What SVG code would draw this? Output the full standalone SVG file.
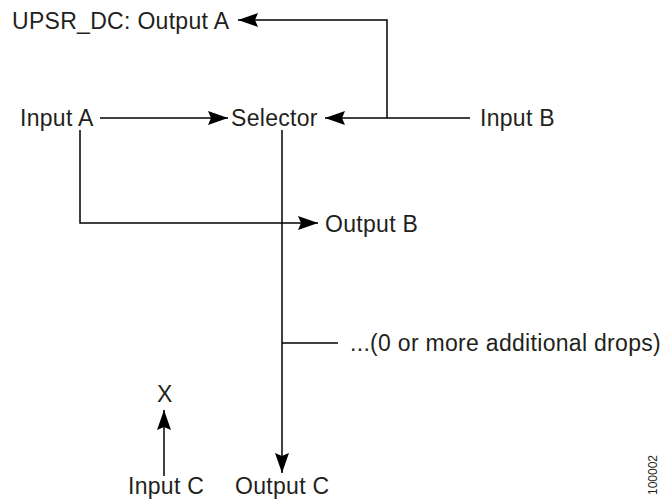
<svg xmlns="http://www.w3.org/2000/svg" width="665" height="501" viewBox="0 0 665 501">
<style>
text{font-family:"Liberation Sans",Arial,Helvetica,sans-serif;font-size:23px;fill:#231f20;letter-spacing:0.3px}
.c{fill:none;stroke:#000;stroke-width:1.5}
.id{font-size:12px;letter-spacing:0}
</style>
<defs>
<marker id="ah" viewBox="-22 -8 23 16" markerWidth="23" markerHeight="16" refX="0" refY="0" markerUnits="userSpaceOnUse" orient="auto">
<path d="M0,0 L-20,-7 L-17,0 L-20,7 Z" fill="#000"/>
</marker>
</defs>
<rect width="665" height="501" fill="#fff"/>
<g id="connectors">
<path class="c" d="M387,118 V20 H238" marker-end="url(#ah)"/>
<path class="c" d="M470,118 H325" marker-end="url(#ah)"/>
<path class="c" d="M100,118 H228" marker-end="url(#ah)"/>
<path class="c" d="M80,130 V223 H318" marker-end="url(#ah)"/>
<path class="c" d="M282,130 V473" marker-end="url(#ah)"/>
<path class="c" d="M282,343 H338"/>
<path class="c" d="M164,476 V410" marker-end="url(#ah)"/>
</g>
<g id="outputA"><text x="12" y="29">UPSR_DC: Output A</text></g>
<g id="inputA"><text x="20" y="126">Input A</text></g>
<g id="selector"><text x="231" y="126">Selector</text></g>
<g id="inputB"><text x="480" y="126">Input B</text></g>
<g id="outputB"><text x="325" y="232">Output B</text></g>
<g id="drops"><text x="350" y="351">...(0 or more additional drops)</text></g>
<g id="x"><text x="157" y="402">X</text></g>
<g id="inputC"><text x="128" y="494">Input C</text></g>
<g id="outputC"><text x="235" y="494">Output C</text></g>
<g id="figid"><text class="id" x="0" y="0" transform="translate(657,495) rotate(-90)">100002</text></g>
</svg>
